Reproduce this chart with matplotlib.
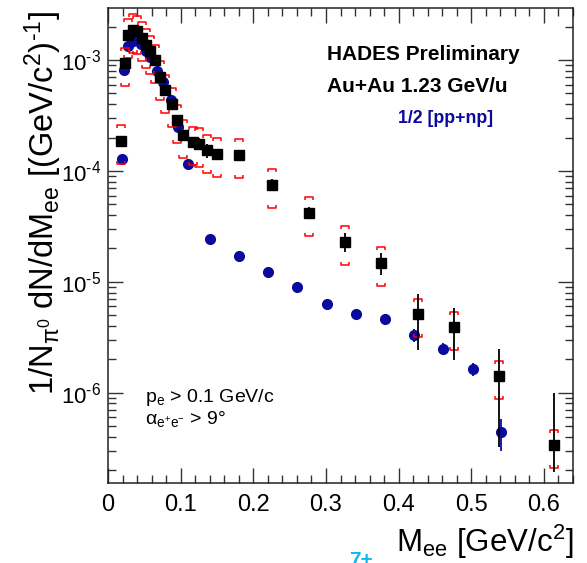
import numpy as np
import matplotlib
matplotlib.use("Agg")
import matplotlib.pyplot as plt
from matplotlib.path import Path
from matplotlib.ticker import MultipleLocator, LogLocator, NullFormatter, FuncFormatter

plt.rcParams['font.family'] = ['Liberation Sans', 'DejaVu Sans']
plt.rcParams['mathtext.fontset'] = 'custom'
plt.rcParams['mathtext.rm'] = 'Liberation Sans'
plt.rcParams['mathtext.it'] = 'Liberation Sans:italic'
plt.rcParams['mathtext.bf'] = 'Liberation Sans:bold'
plt.rcParams['mathtext.default'] = 'regular'
HY = '\u2010'  # short hyphen instead of the wide mathtext minus

# Au+Au data (black squares)
mee_auau = [0.018, 0.0234, 0.028, 0.0349, 0.0404, 0.0464, 0.0523, 0.0579, 0.0647,
            0.0716, 0.0785, 0.0877, 0.0946, 0.1037, 0.1167, 0.1258, 0.136, 0.1497,
            0.1804, 0.226, 0.276, 0.3256, 0.3756, 0.426, 0.4757, 0.5386, 0.6134]
y_auau = [1.88e-4, 9.4e-4, 1.70e-3, 1.88e-3, 1.82e-3, 1.59e-3, 1.38e-3, 1.20e-3, 1.0e-3,
          7.1e-4, 5.37e-4, 4.05e-4, 2.86e-4, 2.09e-4, 1.82e-4, 1.76e-4, 1.53e-4, 1.43e-4,
          1.40e-4, 7.5e-5, 4.2e-5, 2.3e-5, 1.48e-5, 5.1e-6, 3.9e-6, 1.4e-6, 3.35e-7]
# relative statistical errors (low / high)
stat_lo_auau = [0.04, 0.03, 0.03, 0.03, 0.03, 0.03, 0.03, 0.04, 0.04,
                0.05, 0.05, 0.06, 0.08, 0.10, 0.12, 0.12, 0.14, 0.11,
                0.08, 0.12, 0.13, 0.20, 0.23, 0.52, 0.49, 0.77, 0.43]
stat_hi_auau = [0.04, 0.03, 0.03, 0.03, 0.03, 0.03, 0.03, 0.04, 0.04,
                0.05, 0.05, 0.06, 0.08, 0.10, 0.12, 0.12, 0.14, 0.11,
                0.08, 0.12, 0.13, 0.20, 0.23, 0.52, 0.49, 0.77, 1.99]
syst_rel = 0.38

# 1/2 [pp+np] reference (blue circles)
mee_ref = [0.019, 0.022, 0.028, 0.034, 0.040, 0.046, 0.052, 0.058, 0.067, 0.0753,
           0.0864, 0.0968, 0.1106, 0.1405, 0.1804, 0.2208, 0.2608, 0.301, 0.341,
           0.3806, 0.4206, 0.461, 0.5018, 0.541]
y_ref = [1.29e-4, 8.2e-4, 1.33e-3, 1.50e-3, 1.52e-3, 1.40e-3, 1.22e-3, 1.06e-3, 7.9e-4, 6.4e-4,
         4.35e-4, 2.5e-4, 1.16e-4, 2.45e-5, 1.72e-5, 1.22e-5, 8.95e-6, 6.3e-6, 5.1e-6,
         4.6e-6, 3.3e-6, 2.5e-6, 1.64e-6, 4.4e-7]
stat_ref = [0.04, 0.03, 0.03, 0.03, 0.03, 0.03, 0.03, 0.03, 0.04, 0.04,
            0.05, 0.05, 0.06, 0.08, 0.08, 0.08, 0.09, 0.09, 0.09,
            0.10, 0.13, 0.12, 0.13, 0.32]

fig = plt.figure(figsize=(5.87, 5.63), dpi=100)
ax = fig.add_axes([108/587, 1 - 483/563, 465/587, 475/563])

blue = '#0a0a9c'
x_r = np.array(mee_ref)
y_r = np.array(y_ref)
e_r = y_r * np.array(stat_ref)
ax.errorbar(x_r, y_r, yerr=e_r, fmt='o', color=blue, ms=7, elinewidth=1.3,
            capsize=0, zorder=2)

x_a = np.array(mee_auau)
y_a = np.array(y_auau)
top_br = Path([(-1, -0.8), (-1, 0), (1, 0), (1, -0.8)],
              [Path.MOVETO, Path.LINETO, Path.LINETO, Path.LINETO])
bot_br = Path([(-1, 0.8), (-1, 0), (1, 0), (1, 0.8)],
              [Path.MOVETO, Path.LINETO, Path.LINETO, Path.LINETO])
ax.plot(x_a, y_a * (1 + syst_rel), ls='none', marker=top_br, ms=6, mfc='none',
        mec='red', mew=1.1, zorder=3)
ax.plot(x_a, y_a * (1 - syst_rel), ls='none', marker=bot_br, ms=6, mfc='none',
        mec='red', mew=1.1, zorder=3)
ax.errorbar(x_a, y_a, yerr=[y_a * np.array(stat_lo_auau), y_a * np.array(stat_hi_auau)],
            fmt='s', color='black', ms=7, elinewidth=1.3, capsize=0, zorder=4)

ax.set_yscale('log')
ax.set_xlim(0, 0.64)
ax.set_ylim(1.53e-7, 2.95e-3)
ax.xaxis.set_major_locator(MultipleLocator(0.1))
ax.xaxis.set_minor_locator(MultipleLocator(0.02))
ax.xaxis.set_major_formatter(FuncFormatter(lambda v, p: '%g' % round(v, 3)))
ax.yaxis.set_major_locator(LogLocator(base=10))
ax.yaxis.set_minor_locator(LogLocator(base=10, subs=np.arange(2, 10)))
ax.yaxis.set_minor_formatter(NullFormatter())
ax.yaxis.set_major_formatter(FuncFormatter(
    lambda v, p: '10$^{' + HY + '%d}$' % round(-np.log10(v))))
ax.tick_params(which='both', direction='in', top=True, right=True,
               width=1.0, color='#333333')
ax.tick_params(which='major', length=11)
ax.tick_params(which='minor', length=5.5)
ax.tick_params(axis='x', pad=8, labelsize=17)
ax.tick_params(axis='y', pad=5, labelsize=16)
for s in ax.spines.values():
    s.set_linewidth(1.1)
    s.set_color('#222222')

ax.set_ylabel(r'1/N$_{\pi^0}$ dN/dM$_{ee}$ [(GeV/c$^{2}$)$^{' + HY + '1}$]', fontsize=23.5)
ax.yaxis.set_label_coords(-0.095, 0.589)
fig.text(573/587, 1 - 552/563, r'M$_{ee}$ [GeV/c$^{2}$]', fontsize=22.5, ha='right',
         va='baseline')

fig.text(327/587, 1 - 60/563, 'HADES Preliminary', fontsize=15, fontweight='bold',
         va='baseline')
fig.text(327/587, 1 - 92/563, 'Au+Au 1.23 GeV/u', fontsize=15, fontweight='bold',
         va='baseline')
fig.text(398/587, 1 - 123/563, '1/2 [pp+np]', fontsize=12.8, fontweight='bold',
         color=blue, va='baseline')
fig.text(145/587, 1 - 402/563, r'p$_{e}$ > 0.1 GeV/c', fontsize=14, va='baseline')
fig.text(145/587, 1 - 424/563, r'$\alpha_{e^{+}e^{-}}$ > 9°', fontsize=14, va='baseline')
fig.text(349/587, 1 - 551/563, '7+', fontsize=15, fontweight='bold', color='#10b8f0',
         va='top')

fig.savefig('out.png', dpi=100)
